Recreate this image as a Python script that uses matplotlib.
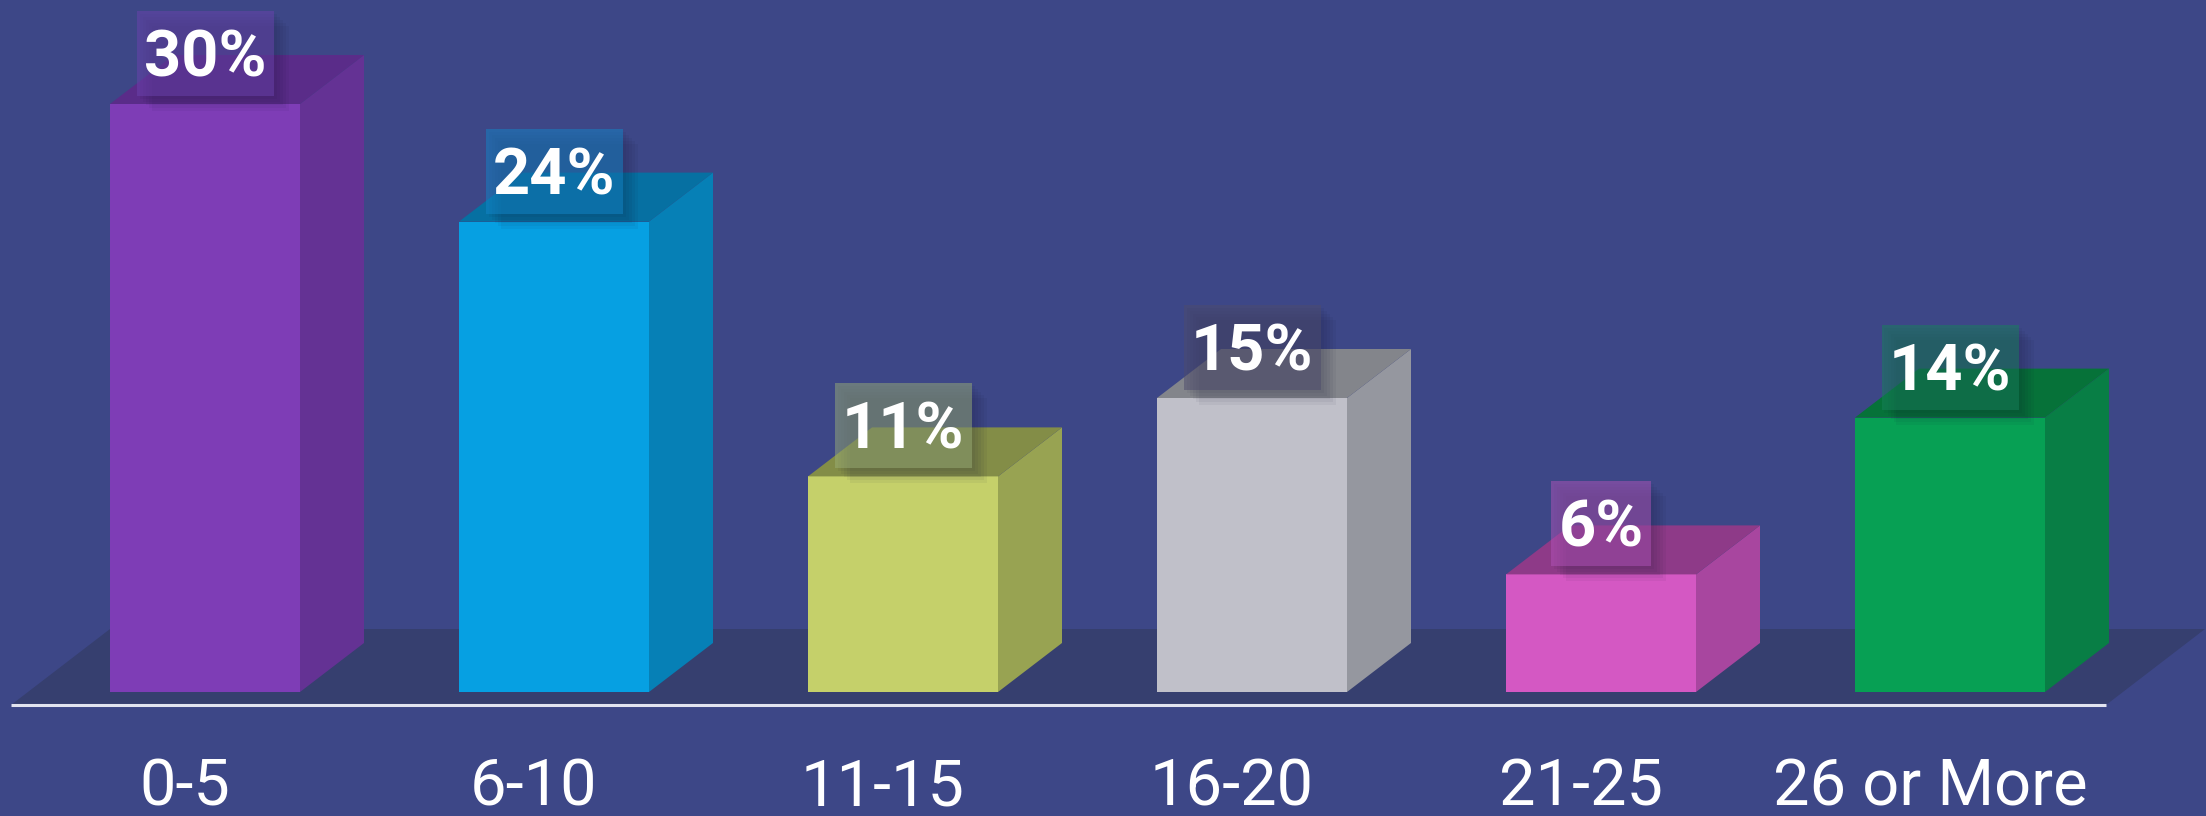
import matplotlib
matplotlib.use("Agg")
import matplotlib.pyplot as plt
from matplotlib.patches import Polygon, Rectangle

# 数据
categories = ["0-5", "6-10", "11-15", "16-20", "21-25", "26 or More"]
values = [30, 24, 11, 15, 6, 14]
value_labels = ["30%", "24%", "11%", "15%", "6%", "14%"]

# 颜色: 正面 / 侧面 / 顶面 / 标签框
front_colors = ["#7E3DB6", "#06A0E2", "#C5D06A", "#C0C0C9", "#D458C3", "#07A054"]
side_colors = ["#643294", "#0680B6", "#98A352", "#95979F", "#A8469F", "#087E45"]
top_colors = ["#5A2C89", "#0670A2", "#838D47", "#83858B", "#8E3A88", "#067239"]
box_colors = ["#6B43AE", "#1385C8", "#99AD76", "#4D4B6C", "#B153B8", "#17815A"]

BG = "#3D4787"
FLOOR = "#363F6F"

W, H, DPI = 2206, 816, 100
PX_X = 349.0   # 每个类别的像素宽度
PX_Y = 19.6    # 每个百分点的像素高度

fig = plt.figure(figsize=(W / DPI, H / DPI), dpi=DPI, facecolor=BG)
ax = fig.add_axes([0, 0, 1, 1])
ax.set_facecolor(BG)
ax.set_xlim(-205 / PX_X, (W - 205) / PX_X)
ax.set_ylim(-(H - 692) / PX_Y, 692 / PX_Y)
ax.axis("off")

bar_w = 190 / PX_X
dx, dy = 64 / PX_X, 49 / PX_Y

# 地面
f_front, f_back = -13 / PX_Y, 63 / PX_Y
f_left, f_right = -194 / PX_X, 1901 / PX_X
f_shift = 99 / PX_X
ax.add_patch(Polygon([(f_left, f_front), (f_right, f_front),
                      (f_right + f_shift, f_back), (f_left + f_shift, f_back)],
                     closed=True, facecolor=FLOOR, edgecolor="none", zorder=1))
ax.plot([f_left, f_right], [f_front, f_front], color="#E2E4F0", lw=2.2,
        solid_capstyle="butt", zorder=2)

for i, (v, lab) in enumerate(zip(values, value_labels)):
    x0, x1 = i - bar_w / 2, i + bar_w / 2
    # 正面
    ax.add_patch(Rectangle((x0, 0), bar_w, v, facecolor=front_colors[i],
                           edgecolor="none", zorder=3))
    # 侧面
    ax.add_patch(Polygon([(x1, 0), (x1 + dx, dy), (x1 + dx, v + dy), (x1, v)],
                         closed=True, facecolor=side_colors[i], edgecolor="none", zorder=3))
    # 顶面
    ax.add_patch(Polygon([(x0, v), (x1, v), (x1 + dx, v + dy), (x0 + dx, v + dy)],
                         closed=True, facecolor=top_colors[i], edgecolor="none", zorder=3))

    # 标签框 + 阴影
    ndig = len(lab) - 1
    bw = (63 + 37 * ndig) / PX_X
    bb = v + 8 / PX_Y
    bh = 85 / PX_Y
    for k in range(1, 6):
        ax.add_patch(Rectangle((i - bw / 2 + 3 * k / PX_X, bb - 3 * k / PX_Y), bw, bh,
                               facecolor="#141433", alpha=0.05, edgecolor="none", zorder=4))
    ax.add_patch(Rectangle((i - bw / 2, bb), bw, bh, facecolor=box_colors[i],
                           alpha=0.5, edgecolor="none", zorder=5))
    ax.text(i, v + 27.5 / PX_Y, lab, ha="center", va="baseline", color="white",
            fontsize=46.8, fontweight="bold", family=["Roboto", "DejaVu Sans"], zorder=6)

    # 类别标签
    ax.text(i - 20 / PX_X, -(806 - 692) / PX_Y, categories[i], ha="center", va="baseline",
            color="white", fontsize=46.8, family=["Roboto", "DejaVu Sans"], zorder=6)

fig.savefig("out.png", dpi=DPI, facecolor=BG)
